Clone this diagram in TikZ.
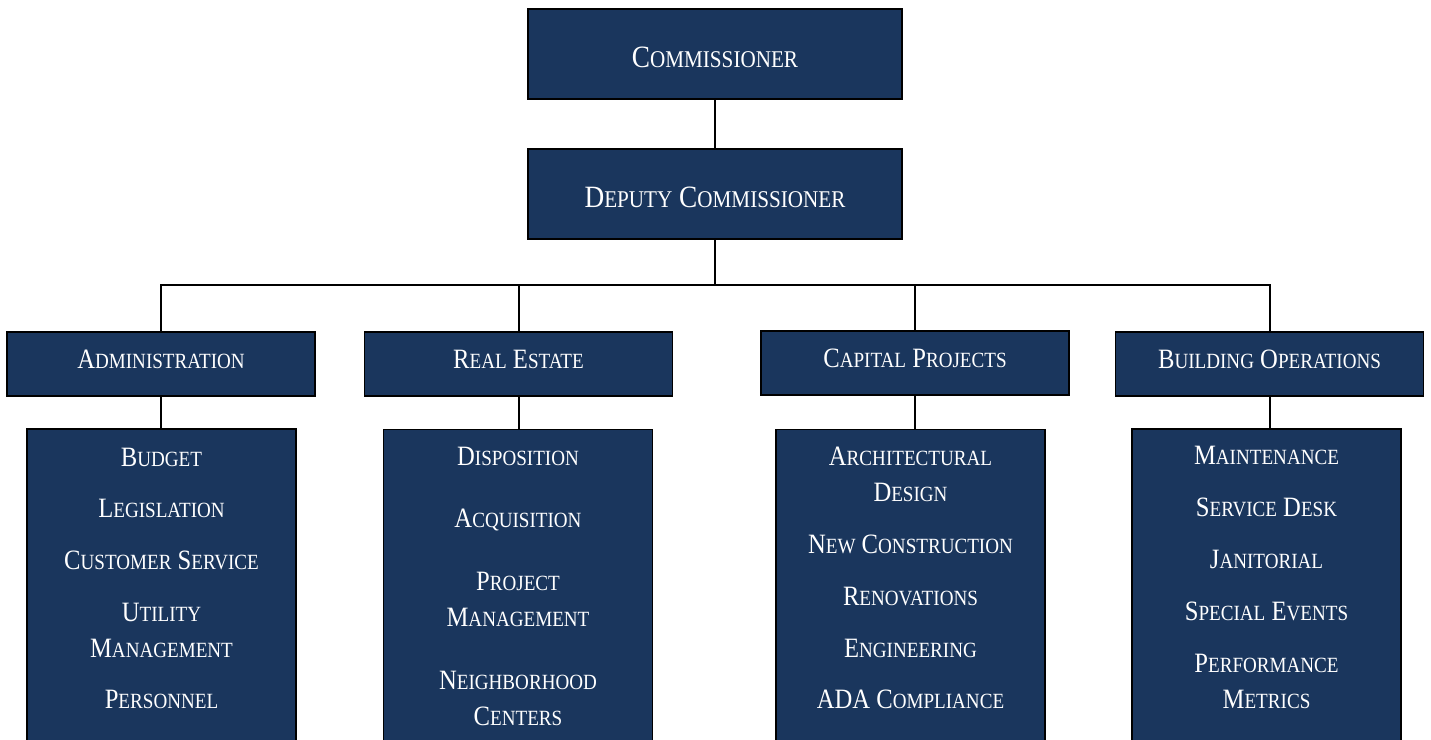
\documentclass[tikz,border=0pt]{standalone}
\usepackage{fontspec}
\setmainfont{Liberation Serif}[FakeStretch=0.88]
\definecolor{navy}{RGB}{26,54,93}
\makeatletter
\newcommand\Sc[2]{#1{\fontsize{\fpeval{0.775*\f@size}}{\f@baselineskip}\selectfont\MakeUppercase{#2}}}
\makeatother
\tikzset{
  box/.style={draw=black, fill=navy, line width=1.6pt, inner sep=0pt, text=white},
  topbox/.style={box, minimum width=374pt, minimum height=90pt, text height=26pt, text depth=0pt, font=\fontsize{31}{37}\selectfont},
  midbox/.style={box, minimum width=308pt, minimum height=64pt, text height=8pt, text depth=0pt, font=\fontsize{28}{35}\selectfont},
  listbox/.style={box, minimum width=269pt, minimum height=330pt, anchor=north},
  item/.style={text=white, anchor=base, inner sep=0pt, font=\fontsize{28}{35}\selectfont},
  conn/.style={draw=black, line width=2pt},
  thickconn/.style={draw=black, line width=2.8pt},
}
\begin{document}
\begin{tikzpicture}[x=1pt,y=-1pt]
\useasboundingbox (0,0) rectangle (1431,739);
\fill[white] (0,0) rectangle (1431,739);
% top level
\node[topbox] (comm) at (715,54) {\Sc{C}{ommissioner}};
\node[topbox] (dep) at (715,194) {\Sc{D}{eputy} \Sc{C}{ommissioner}};
% departments
\node[midbox] (adm) at (161,364) {\Sc{A}{dministration}};
\node[midbox] (re) at (518.5,364) {\Sc{R}{eal} \Sc{E}{state}};
\node[midbox] (cp) at (915,363) {\Sc{C}{apital} \Sc{P}{rojects}};
\node[midbox] (bo) at (1269.5,364) {\Sc{B}{uilding} \Sc{O}{perations}};
% lists
\node[listbox] (admL) at (161.5,428) {};
\node[listbox] (reL) at (518,428.5) {};
\node[listbox] (cpL) at (910.5,428.5) {};
\node[listbox] (boL) at (1266.5,428) {};
% connectors
\coordinate (bus) at (715,285);
\draw[thickconn] (comm.south) -- (dep.north);
\draw[thickconn] (dep.south) -- (dep.south |- bus);
\draw[conn] (adm.north) |- (bo.north |- bus) -- (bo.north);
\draw[conn] (re.north) -- (re.north |- bus);
\draw[conn] (cp.north) -- (cp.north |- bus);
\draw[conn] (adm.south) -- (adm.south |- admL.north);
\draw[conn] (re.south) -- (re.south |- reL.north);
\draw[conn] (cp.south) -- (cp.south |- cpL.north);
\draw[conn] (bo.south) -- (bo.south |- boL.north);
% administration items
\node[item] (a1) at (161.5,466) {\Sc{B}{udget}};
\node[item] (a2) at (161.5,517) {\Sc{L}{egislation}};
\node[item] (a3) at (161.5,569) {\Sc{C}{ustomer} \Sc{S}{ervice}};
\node[item] (a4) at (161.5,621) {\Sc{U}{tility}};
\node[item] (a5) at (161.5,657) {\Sc{M}{anagement}};
\node[item] (a6) at (161.5,708) {\Sc{P}{ersonnel}};
% real estate items
\node[item] (r1) at (518,465) {\Sc{D}{isposition}};
\node[item] (r2) at (518,527) {\Sc{A}{cquisition}};
\node[item] (r3) at (518,590) {\Sc{P}{roject}};
\node[item] (r4) at (518,626) {\Sc{M}{anagement}};
\node[item] (r5) at (518,689) {\Sc{N}{eighborhood}};
\node[item] (r6) at (518,725) {\Sc{C}{enters}};
% capital projects items
\node[item] (c1) at (910.5,465) {\Sc{A}{rchitectural}};
\node[item] (c2) at (910.5,501) {\Sc{D}{esign}};
\node[item] (c3) at (910.5,553) {\Sc{N}{ew} \Sc{C}{onstruction}};
\node[item] (c4) at (910.5,605) {\Sc{R}{enovations}};
\node[item] (c5) at (910.5,657) {\Sc{E}{ngineering}};
\node[item] (c6) at (910.5,708) {ADA \Sc{C}{ompliance}};
% building operations items
\node[item] (b1) at (1266.5,464) {\Sc{M}{aintenance}};
\node[item] (b2) at (1266.5,516) {\Sc{S}{ervice} \Sc{D}{esk}};
\node[item] (b3) at (1266.5,568) {\Sc{J}{anitorial}};
\node[item] (b4) at (1266.5,620) {\Sc{S}{pecial} \Sc{E}{vents}};
\node[item] (b5) at (1266.5,672) {\Sc{P}{erformance}};
\node[item] (b6) at (1266.5,708) {\Sc{M}{etrics}};
\end{tikzpicture}
\end{document}
